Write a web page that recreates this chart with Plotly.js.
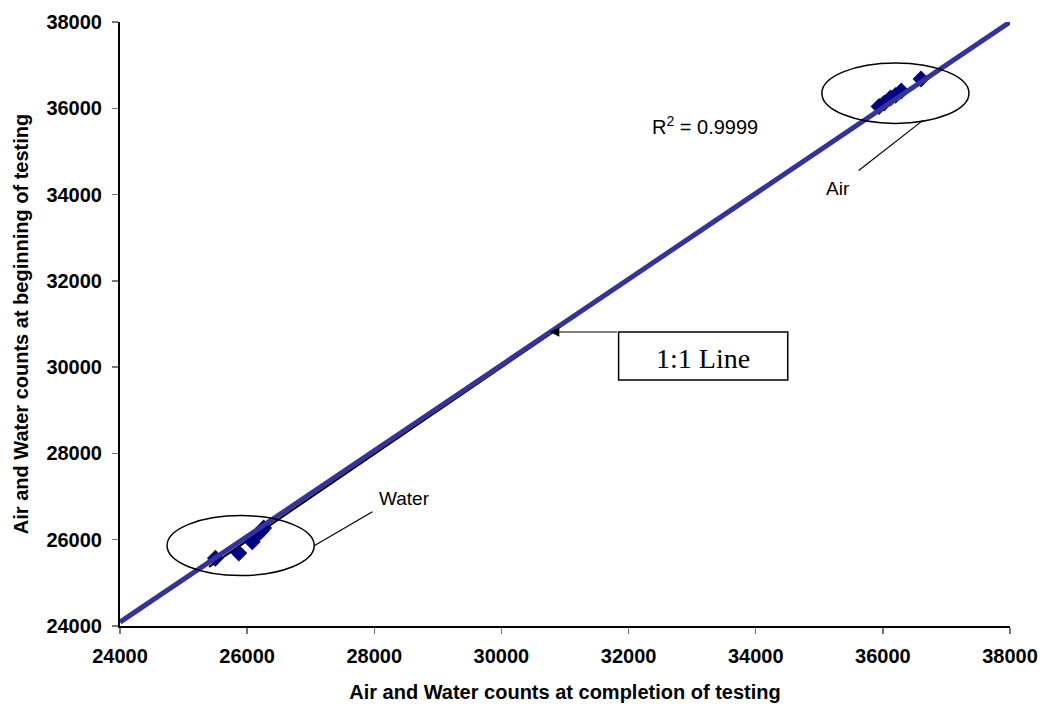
<!DOCTYPE html>
<html>
<head>
<meta charset="utf-8">
<script src="https://cdn.plot.ly/plotly-3.0.1.min.js"></script>
<style>html,body{margin:0;padding:0;background:#fff}#chart{width:1042px;height:708px}</style>
</head>
<body>
<div id="chart"></div>
<script>
// Data
const waterX = [25500, 25870, 26080, 26150, 26220, 26260];
const waterY = [25570, 25690, 25950, 26100, 26200, 26270];
const airX = [35940, 36020, 36120, 36200, 36290, 36600];
const airY = [36040, 36120, 36240, 36300, 36400, 36680];
const trendX = [24000, 38000];
const trendY = [24090, 38000];
const oneToOneX = [25400, 30800];
const oneToOneY = [25370, 30800];
const tickVals = [24000, 26000, 28000, 30000, 32000, 34000, 36000, 38000];
const tickText = ['24000', '26000', '28000', '30000', '32000', '34000', '36000', '38000'];
const rSquaredText = 'R<sup>2</sup> = 0.9999';

const traces = [
  {x: oneToOneX, y: oneToOneY, mode: 'lines', line: {color: '#000000', width: 2}, hoverinfo: 'skip', showlegend: false},
  {x: waterX.concat(airX), y: waterY.concat(airY), mode: 'markers',
   marker: {symbol: 'diamond', size: 13, color: '#000080'}, showlegend: false},
  {x: trendX, y: trendY, mode: 'lines', line: {color: '#333399', width: 5}, showlegend: false}
];

const axisFont = {family: 'Arial, Liberation Sans, sans-serif', size: 20, color: '#000', weight: 'bold'};
const layout = {
  width: 1042, height: 708,
  margin: {l: 120, r: 32, t: 22, b: 82},
  paper_bgcolor: '#fff', plot_bgcolor: '#fff',
  showlegend: false,
  xaxis: {range: [24000, 38000], tickvals: tickVals, ticktext: tickText, showgrid: false, zeroline: false,
    showline: true, linecolor: '#000', linewidth: 2, ticks: 'outside', ticklen: 6, tickcolor: '#777', tickwidth: 1.5,
    tickfont: axisFont, ticklabelstandoff: 5,
    title: {text: '<b>Air and Water counts at completion of testing</b>', font: axisFont, standoff: 19}},
  yaxis: {range: [24000, 38000], tickvals: tickVals, ticktext: tickText, showgrid: false, zeroline: false,
    showline: true, linecolor: '#000', linewidth: 2, ticks: 'outside', ticklen: 6, tickcolor: '#777', tickwidth: 1.5,
    tickfont: axisFont, ticklabelstandoff: 6,
    title: {text: '<b>Air and Water counts at beginning of testing</b>', font: axisFont, standoff: 12}},
  shapes: [
    {type: 'circle', xref: 'x', yref: 'y', x0: 24740, x1: 27055, y0: 25170, y1: 26560, line: {color: '#000', width: 1.5}},
    {type: 'circle', xref: 'x', yref: 'y', x0: 35040, x1: 37355, y0: 35650, y1: 37050, line: {color: '#000', width: 1.5}},
    {type: 'line', xref: 'x', yref: 'y', x0: 27055, y0: 25860, x1: 27970, y1: 26650, line: {color: '#000', width: 1.2}},
    {type: 'line', xref: 'x', yref: 'y', x0: 36630, y0: 35720, x1: 35620, y1: 34560, line: {color: '#000', width: 1.2}},
    {type: 'rect', xref: 'x', yref: 'y', x0: 31843, x1: 34504, y0: 29700, y1: 30814, line: {color: '#000', width: 1.5}, fillcolor: '#fff'}
  ],
  annotations: [
    {x: 30760, y: 30814, ax: 31843, ay: 30814, axref: 'x', ayref: 'y', xref: 'x', yref: 'y', text: '',
     showarrow: true, arrowhead: 2, arrowsize: 1.6, arrowwidth: 1.2, arrowcolor: '#000'},
    {x: 33173, y: 30200, xref: 'x', yref: 'y', text: '1:1 Line', showarrow: false,
     font: {family: 'Times New Roman, Liberation Serif, serif', size: 28, color: '#000'}},
    {x: 33200, y: 35600, xref: 'x', yref: 'y', text: rSquaredText, showarrow: false,
     font: {family: 'Arial, Liberation Sans, sans-serif', size: 20, color: '#000'}},
    {x: 35300, y: 34140, xref: 'x', yref: 'y', text: 'Air', showarrow: false,
     font: {family: 'Arial, Liberation Sans, sans-serif', size: 19, color: '#000'}},
    {x: 28480, y: 26960, xref: 'x', yref: 'y', text: 'Water', showarrow: false,
     font: {family: 'Arial, Liberation Sans, sans-serif', size: 19, color: '#000'}}
  ]
};

Plotly.newPlot('chart', traces, layout, {displayModeBar: false, staticPlot: true});
</script>
</body>
</html>
